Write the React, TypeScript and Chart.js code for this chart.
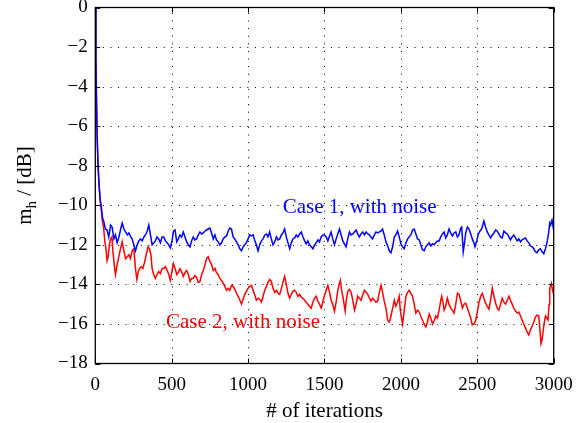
import React, { useEffect, useRef } from "react";
import { Chart, registerables } from "chart.js";

Chart.register(...registerables);

// ---- data ----
const case1Iter = [0,4,8,12,18,25,32,40,46,55,66,77,88,100,110,122,132,143,155,166,176,187,198,210,220,232,241,252,263,274,285,296,307,318,328,340,350,361,372,383,393,404,415,426,437,448,459,470,481,491,502,512,522,533,543,554,565,576,587,598,609,620,630,641,652,663,674,685,696,707,718,728,739,750,761,772,783,793,804,815,826,837,848,859,870,880,891,902,913,924,935,946,957,967,978,989,1000,1011,1022,1033,1044,1054,1065,1076,1087,1098,1109,1120,1130,1141,1152,1163,1174,1185,1196,1207,1218,1228,1239,1250,1261,1272,1283,1293,1304,1315,1326,1337,1348,1359,1370,1380,1391,1402,1413,1424,1435,1446,1457,1467,1478,1489,1500,1511,1522,1533,1543,1554,1565,1576,1587,1598,1609,1620,1630,1641,1652,1663,1674,1685,1696,1707,1717,1728,1739,1750,1761,1772,1783,1794,1804,1815,1826,1837,1848,1859,1870,1880,1891,1902,1913,1924,1935,1946,1957,1967,1978,1989,2000,2011,2022,2033,2044,2054,2065,2076,2087,2098,2109,2120,2130,2141,2152,2163,2174,2185,2196,2207,2217,2228,2239,2250,2261,2272,2283,2293,2304,2315,2326,2337,2348,2359,2370,2380,2391,2398,2408,2418,2424,2435,2446,2457,2467,2478,2485,2496,2507,2518,2528,2536,2543,2554,2565,2576,2587,2598,2609,2620,2630,2641,2652,2663,2674,2685,2696,2707,2717,2728,2739,2750,2761,2772,2783,2793,2804,2815,2826,2837,2848,2859,2870,2880,2891,2902,2913,2924,2935,2946,2957,2967,2974,2980,2989,3000];
const case1Val = [0,-2.5,-4.8,-6.5,-8.0,-9.0,-9.7,-10.1,-10.6,-10.8,-11.2,-11.25,-11.6,-11.0,-11.1,-11.7,-11.5,-11.9,-11.6,-11.2,-10.9,-11.2,-11.35,-11.5,-11.4,-11.6,-11.7,-12.0,-12.3,-12.0,-11.8,-11.7,-11.8,-11.6,-11.5,-11.3,-11.0,-11.5,-12.0,-11.9,-11.8,-11.6,-11.7,-11.9,-11.6,-11.6,-11.8,-11.9,-12.0,-12.15,-11.8,-11.3,-11.25,-11.85,-11.7,-11.5,-11.6,-11.35,-11.6,-11.85,-12.0,-12.1,-11.8,-11.6,-11.75,-11.7,-11.5,-11.35,-11.45,-11.4,-11.3,-11.25,-11.2,-11.15,-11.4,-11.7,-11.5,-11.75,-11.85,-12.0,-11.9,-11.7,-11.6,-11.55,-11.3,-11.15,-11.2,-11.6,-11.7,-11.85,-12.0,-12.2,-12.3,-12.1,-12.0,-11.9,-11.7,-11.5,-11.55,-11.5,-11.8,-12.0,-12.3,-12.0,-11.8,-11.7,-11.5,-11.45,-11.6,-11.35,-11.7,-12.0,-11.85,-11.6,-11.75,-11.7,-11.5,-11.4,-11.2,-11.6,-11.9,-12.2,-11.9,-11.7,-11.65,-11.5,-11.6,-11.45,-11.35,-11.6,-11.8,-11.95,-11.8,-12.0,-12.1,-12.2,-12.0,-11.9,-11.75,-11.85,-11.6,-11.5,-11.5,-11.6,-11.8,-11.55,-11.35,-11.7,-12.0,-11.7,-11.45,-11.2,-11.5,-11.8,-11.95,-12.1,-11.7,-11.35,-11.5,-11.45,-11.35,-11.25,-11.45,-11.6,-11.45,-11.35,-11.5,-11.35,-11.45,-11.5,-11.6,-11.7,-11.5,-11.35,-11.4,-11.35,-11.3,-11.2,-11.5,-11.85,-12.05,-12.3,-12.4,-12.1,-11.6,-11.5,-11.3,-11.6,-11.95,-12.1,-12.2,-11.9,-11.7,-11.6,-11.5,-11.25,-11.2,-11.45,-11.7,-11.75,-12.0,-12.25,-12.3,-12.1,-12.0,-11.9,-12.05,-11.95,-12.0,-11.9,-11.8,-11.8,-11.6,-11.45,-11.35,-11.65,-11.5,-11.2,-11.4,-11.55,-11.4,-11.35,-11.6,-11.5,-11.15,-11.1,-12.35,-11.8,-11.4,-11.1,-11.2,-11.45,-11.7,-11.9,-12.1,-11.8,-11.45,-11.3,-11.2,-11.0,-10.8,-11.1,-11.35,-11.5,-11.65,-11.5,-11.4,-11.25,-11.3,-11.45,-11.6,-11.65,-11.3,-11.4,-11.45,-11.6,-11.75,-11.6,-11.5,-11.65,-11.8,-11.7,-11.85,-11.75,-11.7,-11.65,-11.8,-11.9,-12.05,-12.1,-12.2,-12.35,-12.4,-12.25,-12.2,-12.35,-12.45,-12.2,-11.85,-11.4,-10.9,-11.0,-10.75,-11.25];

const case2Iter = [0,4,8,12,18,25,32,40,46,54,62,70,77,84,92,100,109,116,124,132,143,154,165,176,187,198,209,220,230,241,252,263,272,280,290,300,311,322,333,345,355,364,372,382,393,404,415,426,437,448,459,470,481,491,500,511,522,533,543,554,565,576,587,598,609,620,630,641,652,663,674,685,696,707,718,728,739,750,761,772,783,793,804,815,826,837,848,859,870,880,891,902,913,924,935,946,957,967,978,989,1000,1011,1022,1033,1044,1054,1065,1076,1087,1098,1109,1120,1130,1141,1152,1163,1174,1185,1196,1207,1218,1228,1239,1250,1261,1272,1283,1293,1304,1315,1326,1337,1348,1359,1370,1380,1391,1402,1413,1424,1435,1446,1457,1467,1478,1489,1500,1511,1522,1533,1543,1554,1565,1576,1587,1596,1604,1612,1620,1628,1635,1641,1652,1663,1674,1685,1696,1707,1717,1728,1739,1750,1761,1772,1783,1794,1804,1815,1826,1837,1848,1859,1870,1880,1891,1902,1913,1924,1935,1946,1957,1967,1978,1989,1996,2004,2011,2022,2033,2044,2054,2065,2076,2087,2098,2109,2120,2130,2141,2152,2163,2174,2185,2196,2207,2217,2228,2239,2250,2261,2267,2275,2283,2293,2304,2315,2326,2337,2348,2359,2370,2380,2391,2402,2413,2424,2435,2446,2457,2467,2478,2489,2500,2511,2522,2533,2543,2554,2565,2576,2587,2598,2609,2620,2630,2641,2652,2663,2674,2685,2696,2707,2717,2728,2739,2750,2761,2772,2783,2793,2804,2815,2826,2837,2848,2859,2870,2880,2891,2902,2910,2917,2924,2935,2946,2955,2963,2970,2974,2985,2992,3000];
const case2Val = [0,-2.5,-4.8,-6.5,-8.0,-9.0,-9.8,-10.3,-10.8,-11.1,-11.8,-12.2,-12.8,-12.6,-12.0,-11.7,-11.6,-12.4,-13.0,-13.5,-13.0,-12.6,-12.2,-11.85,-12.3,-12.7,-12.6,-12.5,-12.7,-12.3,-12.2,-13.2,-13.75,-13.4,-13.2,-13.1,-13.2,-12.9,-12.5,-12.1,-12.2,-12.5,-13.2,-13.5,-13.7,-13.5,-13.35,-13.45,-13.2,-13.2,-13.1,-13.3,-13.5,-13.8,-13.4,-12.95,-13.2,-13.5,-13.4,-13.2,-13.35,-13.6,-13.4,-13.3,-13.5,-13.85,-13.7,-13.7,-13.55,-13.65,-13.9,-13.85,-13.5,-13.3,-13.0,-12.7,-12.6,-12.85,-13.0,-13.3,-13.2,-13.4,-13.5,-13.7,-13.8,-13.95,-14.1,-14.3,-14.2,-14.3,-14.05,-14.1,-14.25,-14.45,-14.6,-14.8,-15.0,-14.75,-14.5,-14.35,-14.2,-14.1,-14.05,-14.3,-14.55,-14.8,-14.7,-14.75,-14.9,-14.6,-14.3,-14.1,-13.9,-13.75,-13.85,-14.2,-14.4,-14.3,-14.45,-14.5,-14.2,-13.9,-13.6,-14.0,-14.45,-14.7,-14.5,-14.35,-14.3,-14.4,-14.6,-14.5,-14.65,-14.7,-14.8,-14.9,-15.0,-15.1,-15.2,-14.9,-14.7,-14.6,-14.85,-15.0,-15.2,-14.9,-14.55,-14.3,-14.05,-14.4,-14.8,-15.0,-15.35,-14.9,-14.3,-14.0,-13.8,-14.3,-14.6,-15.0,-15.35,-14.9,-14.35,-14.25,-14.4,-14.8,-15.3,-15.0,-14.6,-14.7,-14.8,-14.55,-14.3,-14.4,-14.5,-14.7,-14.85,-14.7,-14.8,-14.9,-14.85,-14.4,-14.05,-14.4,-14.85,-15.2,-15.8,-15.9,-15.6,-15.2,-14.8,-15.1,-14.9,-14.6,-15.3,-15.7,-16.0,-15.3,-14.6,-14.4,-14.3,-14.45,-14.6,-15.0,-15.45,-15.3,-15.4,-15.6,-15.8,-16.0,-16.15,-15.9,-15.5,-15.7,-16.0,-15.85,-15.6,-15.7,-15.3,-14.8,-14.6,-14.9,-15.3,-15.1,-14.7,-15.0,-15.2,-15.3,-15.45,-15.0,-14.45,-14.5,-14.8,-15.2,-15.0,-14.95,-15.2,-15.45,-15.7,-16.05,-16.0,-15.85,-15.4,-14.9,-14.6,-14.45,-14.7,-14.95,-15.1,-15.25,-14.8,-14.2,-14.6,-14.95,-15.2,-15.3,-15.0,-14.7,-14.9,-15.0,-14.8,-14.6,-14.8,-15.0,-15.2,-15.35,-15.45,-15.4,-15.6,-15.8,-16.0,-16.2,-16.4,-16.55,-16.3,-16.1,-15.9,-15.65,-15.55,-15.6,-16.3,-17.0,-16.8,-16.1,-15.6,-15.7,-15.8,-15.0,-14.2,-13.95,-14.3,-14.5];

const xTicks = [0, 500, 1000, 1500, 2000, 2500, 3000];
const yTicks = [0, -2, -4, -6, -8, -10, -12, -14, -16, -18];

const seriesLabels = ["Case 1, with noise", "Case 2, with noise"];
const seriesColors = ["#0000ff", "#ff0000"];
// annotation anchors in data units (left edge, baseline)
const annotations = [
  { text: seriesLabels[0], x: 1226, y: -10.37, color: seriesColors[0] },
  { text: seriesLabels[1], x: 463, y: -16.22, color: seriesColors[1] },
];

const FONT = "Liberation Serif";
Chart.defaults.font.family = FONT;

const matlabAxesPlugin = {
  id: "matlabAxes",
  beforeDatasetsDraw(chart: any) {
    const { ctx, chartArea, scales } = chart;
    const xs = scales.x, ys = scales.y;
    ctx.save();
    ctx.strokeStyle = "#000";
    ctx.lineWidth = 1;
    ctx.setLineDash([1, 6.6]);
    for (const t of xTicks) {
      if (t === 0 || t === 3000) continue;
      const px = Math.round(xs.getPixelForValue(t)) + 0.5;
      ctx.beginPath();
      ctx.moveTo(px, chartArea.bottom);
      ctx.lineTo(px, chartArea.top);
      ctx.stroke();
    }
    for (const t of yTicks) {
      if (t === 0 || t === -18) continue;
      const py = Math.round(ys.getPixelForValue(t)) + 0.5;
      ctx.beginPath();
      ctx.moveTo(chartArea.left, py);
      ctx.lineTo(chartArea.right, py);
      ctx.stroke();
    }
    ctx.restore();
  },
  afterDatasetsDraw(chart: any) {
    const { ctx, chartArea, scales } = chart;
    const xs = scales.x, ys = scales.y;
    const { left, right, top, bottom } = chartArea;
    ctx.save();
    ctx.strokeStyle = "#000";
    ctx.lineWidth = 1.3;
    ctx.setLineDash([]);
    ctx.strokeRect(left, top, right - left, bottom - top);
    const tl = 5;
    ctx.lineWidth = 1;
    for (const t of xTicks) {
      const px = Math.round(xs.getPixelForValue(t)) + 0.5;
      ctx.beginPath();
      ctx.moveTo(px, bottom); ctx.lineTo(px, bottom - tl);
      ctx.moveTo(px, top); ctx.lineTo(px, top + tl);
      ctx.stroke();
    }
    for (const t of yTicks) {
      const py = Math.round(ys.getPixelForValue(t)) + 0.5;
      ctx.beginPath();
      ctx.moveTo(left, py); ctx.lineTo(left + tl, py);
      ctx.moveTo(right, py); ctx.lineTo(right - tl, py);
      ctx.stroke();
    }
    // annotations
    ctx.font = `21px '${FONT}'`;
    ctx.textBaseline = "alphabetic";
    ctx.textAlign = "left";
    for (const a of annotations) {
      ctx.fillStyle = a.color;
      ctx.fillText(a.text, xs.getPixelForValue(a.x), ys.getPixelForValue(a.y));
    }
    // x title
    ctx.fillStyle = "#000";
    ctx.textAlign = "center";
    ctx.fillText("# of iterations", (left + right) / 2, 417.3);
    // y title with subscript
    const main = `21px '${FONT}'`;
    const sub = `15px '${FONT}'`;
    ctx.font = main;
    const wm = ctx.measureText("m").width;
    const wrest = ctx.measureText(" / [dB]").width;
    ctx.font = sub;
    const wh = ctx.measureText("h").width;
    const total = wm + wh + wrest;
    const cy = (top + bottom) / 2;
    ctx.translate(31, cy + total / 2);
    ctx.rotate(-Math.PI / 2);
    ctx.textAlign = "left";
    ctx.font = main;
    ctx.fillText("m", 0, 0);
    ctx.font = sub;
    ctx.fillText("h", wm, 5);
    ctx.font = main;
    ctx.fillText(" / [dB]", wm + wh, 0);
    ctx.restore();
  },
};

export default function App() {
  const ref = useRef<HTMLCanvasElement | null>(null);
  useEffect(() => {
    if (!ref.current) return;
    const mk = (xsArr: number[], vs: number[]) => xsArr.map((x, i) => ({ x, y: vs[i] }));
    const chart = new Chart(ref.current, {
      type: "line",
      data: {
        datasets: [
          {
            label: seriesLabels[0],
            data: mk(case1Iter, case1Val),
            borderColor: seriesColors[0],
            borderWidth: 1.5,
            pointRadius: 0,
            tension: 0,
            fill: false,
          },
          {
            label: seriesLabels[1],
            data: mk(case2Iter, case2Val),
            borderColor: seriesColors[1],
            borderWidth: 1.5,
            pointRadius: 0,
            tension: 0,
            fill: false,
          },
        ],
      },
      options: {
        responsive: false,
        animation: false,
        devicePixelRatio: 1,
        layout: { padding: { top: 7.5, right: 31.3, left: 0, bottom: 0 } },
        plugins: { legend: { display: false }, tooltip: { enabled: false } },
        scales: {
          x: {
            type: "linear",
            min: 0,
            max: 3000,
            afterBuildTicks: (s: any) => { s.ticks = xTicks.map((v) => ({ value: v })); },
            afterFit: (s: any) => { s.height = 59.5; s.paddingLeft = 0; s.paddingRight = 0; },
            grid: { display: false, drawTicks: false },
            border: { display: false },
            ticks: {
              font: { family: FONT, size: 19 },
              color: "#000",
              padding: 10,
              maxRotation: 0,
              autoSkip: false,
              callback: (v: any) => String(v),
            },
          },
          y: {
            type: "linear",
            min: -18,
            max: 0,
            afterBuildTicks: (s: any) => { s.ticks = yTicks.map((v) => ({ value: v })); },
            afterFit: (s: any) => { s.width = 95.3; s.paddingTop = 0; s.paddingBottom = 0; },
            grid: { display: false, drawTicks: false },
            border: { display: false },
            ticks: {
              font: { family: FONT, size: 19 },
              color: "#000",
              padding: 7.5,
              autoSkip: false,
              callback: (v: any) => (v < 0 ? "\u2212" + Math.abs(v) : String(v)),
            },
          },
        },
      },
      plugins: [matlabAxesPlugin],
    });
    return () => chart.destroy();
  }, []);
  return (
    <div style={{ position: "absolute", left: 0, top: 0, width: 585, height: 423, background: "#fff" }}>
      <canvas ref={ref} width={585} height={423} style={{ width: 585, height: 423 }} />
    </div>
  );
}
